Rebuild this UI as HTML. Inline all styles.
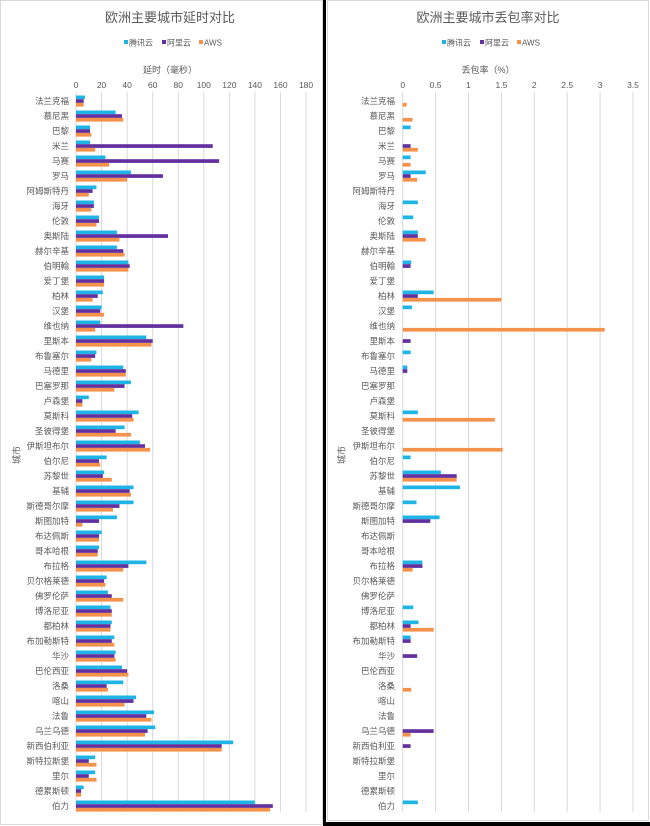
<!DOCTYPE html>
<html><head><meta charset="utf-8">
<style>
html,body{margin:0;padding:0;background:#fff;}
svg{display:block;font-family:"Liberation Sans","Noto Sans CJK SC",sans-serif;}
</style></head>
<body>
<svg id="s" width="650" height="826" xmlns="http://www.w3.org/2000/svg">
<rect x="0" y="0" width="650" height="826" fill="#fff"/>
<rect x="0.5" y="0.5" width="322" height="824" fill="none" stroke="#d9d9d9"/>
<rect x="327.5" y="0.5" width="321" height="820" fill="none" stroke="#d9d9d9"/>
<rect x="323" y="0" width="3" height="826" fill="#000"/>
<rect x="326" y="822" width="324" height="4" fill="#000"/>
<g id="g"></g>
</svg>
<script>
var cities=["法兰克福","慕尼黑","巴黎","米兰","马赛","罗马","阿姆斯特丹","海牙","伦敦","奥斯陆","赫尔辛基","伯明翰","爱丁堡","柏林","汉堡","维也纳","里斯本","布鲁塞尔","马德里","巴塞罗那","卢森堡","莫斯科","圣彼得堡","伊斯坦布尔","伯尔尼","苏黎世","基辅","斯德哥尔摩","斯图加特","布达佩斯","哥本哈根","布拉格","贝尔格莱德","佛罗伦萨","博洛尼亚","都柏林","布加勒斯特","华沙","巴伦西亚","洛桑","喀山","法鲁","乌兰乌德","新西伯利亚","斯特拉斯堡","里尔","德累斯顿","伯力"];
var L=[[7,6,6],[31,36,37],[11,11,12],[11,107,15],[23,112,26],[43,68,40],[16,13,10],[14,14,12],[18,18,16],[32,72,34],[32,37,38],[41,42,41],[22,22,22],[21,17,13],[20,19,22],[19,84,15],[55,60,59],[16,15,12],[37,39,39],[43,38,30],[10,5,5],[49,44,45],[38,31,43],[50,54,58],[24,18,19],[22,21,28],[45,42,43],[45,34,29],[32,18,5],[20,18,18],[18,17,17],[55,41,37],[24,22,23],[25,28,37],[27,28,28],[28,27,27],[30,28,30],[31,30,31],[36,40,41],[37,24,25],[47,45,38],[61,55,59],[62,56,54],[123,114,114],[15,10,16],[15,10,16],[6,4,4],[140,154,152]];
var R=[[0,0,0.06],[0,0,0.15],[0.12,0,0],[0,0.12,0.23],[0.12,0,0.12],[0.35,0.12,0.22],[0,0,0],[0.23,0,0],[0.16,0,0],[0.23,0.23,0.35],[0,0,0],[0.13,0.12,0],[0,0,0],[0.47,0.23,1.5],[0.14,0,0],[0,0,3.07],[0,0.12,0],[0.12,0,0],[0.07,0.07,0],[0,0,0],[0,0,0],[0.23,0,1.4],[0,0,0],[0,0,1.52],[0.12,0,0],[0.58,0.82,0.82],[0.87,0,0],[0.21,0,0],[0.56,0.42,0],[0,0,0],[0,0,0],[0.3,0.3,0.15],[0,0,0],[0,0,0],[0.16,0,0],[0.24,0.12,0.47],[0.12,0.12,0],[0,0.22,0],[0,0,0],[0,0,0.13],[0,0,0],[0,0,0],[0,0.47,0.12],[0,0.12,0],[0,0,0],[0,0,0],[0,0,0],[0.23,0,0]];
var C=["#1eb4e6","#6330a0","#f4914a"];
var h="";
function chart(x0,sc,ticks,data,title,axt,labx,cx,ytx){
  h+='<text x="'+cx+'" y="22" font-size="13" fill="#595959" text-anchor="middle">'+title+'</text>';
  var lx=cx-46, names=["腾讯云","阿里云","AWS"], offs=[0,38,75];
  for(var k=0;k<3;k++){h+='<rect x="'+(lx+offs[k])+'" y="40" width="4" height="4" fill="'+C[k]+'"/><text x="'+(lx+offs[k]+5)+'" y="45.5" font-size="8" fill="#595959">'+names[k]+'</text>';}
  h+='<text x="'+cx+'" y="73" font-size="9" fill="#595959" text-anchor="middle">'+axt+'</text>';
  for(var i=0;i<ticks.length;i++){var x=x0+ticks[i]*sc;
    h+='<line x1="'+x+'" y1="92" x2="'+x+'" y2="812" stroke="#d9d9d9" stroke-width="1"/>';
    h+='<text x="'+x+'" y="88" font-size="8.5" fill="#595959" text-anchor="middle">'+ticks[i]+'</text>';}
  for(var j=0;j<48;j++){var y=101+j*15;
    h+='<text x="'+labx+'" y="'+(y+3)+'" font-size="8.5" fill="#595959" text-anchor="end">'+cities[j]+'</text>';
    for(var k=0;k<3;k++){var v=data[j][k]; if(v<=0)continue;
      h+='<rect x="'+x0+'" y="'+(y-5.5+k*3.7)+'" width="'+(v*sc)+'" height="3.7" fill="'+C[k]+'"/>';}
  }
  h+='<text transform="translate('+ytx+',455) rotate(-90)" font-size="9" fill="#595959" text-anchor="middle">城市</text>';
}
chart(76,1.278,[0,20,40,60,80,100,120,140,160,180],L,"欧洲主要城市延时对比","延时（毫秒）",69,170,20);
chart(402.7,65.8,[0,0.5,1,1.5,2,2.5,3,3.5],R,"欧洲主要城市丢包率对比","丢包率（%）",395,488,345);
document.getElementById("g").innerHTML=h;
</script>
</body></html>
